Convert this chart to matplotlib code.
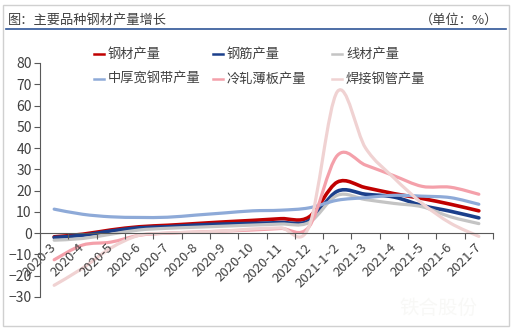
import numpy as np
import matplotlib
matplotlib.use("Agg")
import matplotlib.pyplot as plt
from matplotlib.path import Path
from matplotlib.patches import PathPatch, Rectangle
from matplotlib.lines import Line2D

plt.rcParams['font.family'] = ['Noto Sans CJK SC', 'DejaVu Sans']

# 月份
months = ['2020-3', '2020-4', '2020-5', '2020-6', '2020-7', '2020-8', '2020-9',
          '2020-10', '2020-11', '2020-12', '2021-1~2', '2021-3', '2021-4',
          '2021-5', '2021-6', '2021-7']

# 各品种产量增速（%）
steel = [-1.7, -0.5, 1.5, 3.0, 3.7, 4.5, 5.3, 6.0, 6.8, 7.6, 24.0, 21.4, 18.6, 16.3, 13.6, 10.5]
rebar = [-2.0, -1.0, 1.0, 2.5, 3.0, 3.8, 4.3, 4.6, 5.0, 5.8, 19.7, 18.3, 17.0, 13.0, 10.3, 7.2]
wire = [-3.3, -2.5, -0.5, 1.5, 2.3, 2.8, 3.3, 3.8, 4.3, 5.0, 17.8, 15.8, 14.0, 12.4, 7.7, 4.5]
strip = [11.3, 8.9, 7.7, 7.4, 7.5, 8.5, 9.5, 10.5, 10.8, 11.9, 15.5, 16.7, 17.8, 17.4, 16.7, 13.6]
cold = [-12.5, -5.6, -4.2, -1.0, 0.0, 0.5, 1.0, 1.5, 2.2, 3.0, 36.5, 32.0, 27.0, 22.0, 21.6, 18.3]
welded = [-24.5, -16.5, -7.0, -1.0, 0.0, 0.5, 1.0, 2.0, 2.5, 3.0, 66.5, 40.0, 26.0, 14.0, 4.7, -1.5]

names = ['钢材产量', '钢筋产量', '线材产量', '中厚宽钢带产量', '冷轧薄板产量', '焊接钢管产量']
series = [steel, rebar, wire, strip, cold, welded]
colors = ['#c00000', '#1b3f8b', '#c4c4c4', '#8eaad8', '#f4a0aa', '#f0d2d2']
widths = [2.6, 2.6, 2.3, 2.3, 2.3, 2.3]


# Excel风格的平滑曲线
def smooth_path(xs, ys):
    pts = np.column_stack([xs, ys]).astype(float)
    n = len(pts)
    verts = [pts[0]]
    codes = [Path.MOVETO]
    for i in range(n - 1):
        p0 = pts[i - 1] if i > 0 else pts[i]
        p1 = pts[i]
        p2 = pts[i + 1]
        p3 = pts[i + 2] if i + 2 < n else pts[i + 1]
        c1 = p1 + (p2 - p0) / 6.0
        c2 = p2 - (p3 - p1) / 6.0
        verts += [c1, c2, p2]
        codes += [Path.CURVE4] * 3
    return Path(verts, codes)


fig = plt.figure(figsize=(5.14, 3.29), dpi=100)
ax = fig.add_axes([40 / 514, 32 / 329, 453 / 514, 234 / 329])

x = np.arange(len(months))
for ys, c, lw in zip(series, colors, widths):
    ax.add_patch(PathPatch(smooth_path(x, ys), fill=False, edgecolor=c,
                           lw=lw, capstyle='round', joinstyle='round'))

ax.set_xlim(-0.5, len(months) - 0.5)
ax.set_ylim(-30, 80)
ax.set_yticks(np.arange(-30, 81, 10))

axis_col = '#595959'
for s in ['top', 'right']:
    ax.spines[s].set_visible(False)
ax.spines['left'].set_color(axis_col)
ax.spines['bottom'].set_color(axis_col)
ax.spines['bottom'].set_position(('data', 0))

ax.set_xticks(np.arange(-0.5, len(months), 1.0))
ax.set_xticklabels([])
ax.set_xticks(x, minor=True)
ax.set_xticklabels(months, minor=True, rotation=45, ha='right', va='center',
                   rotation_mode='anchor', fontsize=9.5, color='#404040')
ax.tick_params(axis='x', which='major', direction='out', length=4, color=axis_col)
ax.tick_params(axis='x', which='minor', length=0, pad=9)
ax.tick_params(axis='y', direction='out', length=4, color=axis_col,
               labelsize=10, labelcolor='#404040', pad=2)

# 图例
col_x = [94, 213, 332]
row_y = [54, 79]
for k, (nm, c) in enumerate(zip(names, colors)):
    cx = col_x[k % 3]
    cy = 1 - row_y[k // 3] / 329
    fig.add_artist(Line2D([cx / 514, (cx + 10) / 514], [cy, cy], color=c, lw=1.8))
    fig.text((cx + 14) / 514, cy, nm, fontsize=9.5, color='#404040', va='center')

# 标题
fig.text(8 / 514, 1 - 20 / 329, '图：主要品种钢材产量增长', fontsize=9.5,
         color='#404040', va='center')
fig.text(498 / 514, 1 - 20 / 329, '（单位：%）', fontsize=9.5,
         color='#404040', va='center', ha='right')
fig.add_artist(Line2D([6 / 514, 506 / 514], [1 - 29 / 329, 1 - 29 / 329],
                      color='#2f5597', lw=1.2))
fig.add_artist(Rectangle((3 / 514, 3 / 329), 506 / 514, 321 / 329, fill=False,
                         edgecolor='#d0d0d0', lw=1, transform=fig.transFigure))
fig.text(438 / 514, 1 - 308 / 329, '铁合股份', fontsize=14, color='#f8f8f6',
         ha='center', va='center')

fig.savefig('out.png', dpi=100)
